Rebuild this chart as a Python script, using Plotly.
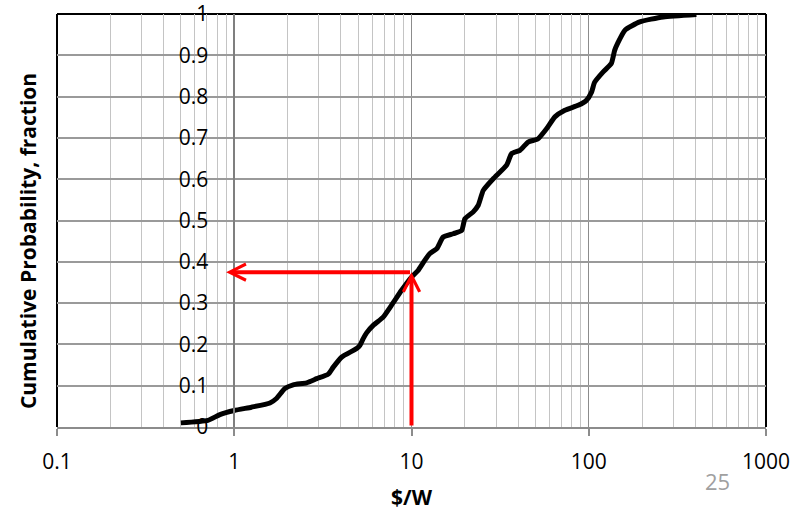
import math
import plotly.graph_objects as go

# Data
cost_per_watt = [0.5, 0.71, 0.83, 1.0, 1.25, 1.59, 1.73, 1.93, 2.15, 2.56, 2.92, 3.39, 3.62,
                 4.03, 4.9, 5.12, 5.34, 5.58, 6.08, 6.92, 7.72, 8.79, 10.0, 10.9, 11.9, 12.7,
                 13.9, 15.1, 17.2, 19.2, 20.0, 22.3, 23.8, 25.4, 28.9, 34.4, 36.7, 40.9, 45.5,
                 51.8, 57.8, 64.4, 73.3, 87.1, 97.0, 103.7, 108.0, 120.6, 134.0, 140.0, 146.6,
                 160.0, 194.0, 263.0, 405.0]
cum_prob = [0.01, 0.016, 0.030, 0.040, 0.048, 0.058, 0.069, 0.093, 0.102, 0.107, 0.117, 0.128,
            0.145, 0.169, 0.190, 0.198, 0.214, 0.228, 0.246, 0.266, 0.295, 0.331, 0.363, 0.379,
            0.404, 0.420, 0.432, 0.460, 0.468, 0.476, 0.504, 0.521, 0.537, 0.573, 0.601, 0.634,
            0.662, 0.670, 0.690, 0.698, 0.722, 0.751, 0.767, 0.779, 0.791, 0.811, 0.835, 0.860,
            0.880, 0.912, 0.932, 0.961, 0.981, 0.993, 0.999]

x_tick_vals = [0.1, 1, 10, 100, 1000]
x_tick_text = ["0.1", "1", "10", "100", "1000"]
y_tick_vals = [0, 0.1, 0.2, 0.3, 0.4, 0.5, 0.6, 0.7, 0.8, 0.9, 1.0]
y_tick_text = ["0", "0.1", "0.2", "0.3", "0.4", "0.5", "0.6", "0.7", "0.8", "0.9", "1"]

# Reading arrows: from x=10 up to the curve, then across to the probability axis
read_x = 10
read_p = 0.375
read_axis_x = 0.9

FONT = "Open Sans"
TICK_SIZE = 21

fig = go.Figure()
fig.add_trace(go.Scatter(
    x=cost_per_watt, y=cum_prob, mode="lines",
    line=dict(color="black", width=5, shape="spline", smoothing=0.5),
    showlegend=False, hoverinfo="skip"))

fig.update_layout(
    width=800, height=515,
    margin=dict(l=57, r=34, t=14, b=88, autoexpand=False),
    paper_bgcolor="white", plot_bgcolor="white",
    font=dict(family=FONT, size=TICK_SIZE, color="black"),
    xaxis=dict(
        type="log", range=[-1, 3], automargin=False,
        tickvals=x_tick_vals, ticktext=x_tick_text,
        showgrid=True, gridcolor="#8c8c8c", gridwidth=1,
        minor=dict(showgrid=True, gridcolor="#c4c4c4", gridwidth=1, dtick="D1",
                   ticks=""),
        showline=True, linecolor="#8c8c8c", linewidth=1.5,
        ticks="outside", ticklen=7, tickcolor="#8c8c8c", tickwidth=1.5,
        ticklabelstandoff=8,
        tickfont=dict(size=TICK_SIZE, family=FONT),
        zeroline=False,
    ),
    yaxis=dict(
        range=[0, 1.0001], tickvals=y_tick_vals, ticktext=y_tick_text,
        anchor="free", position=0.25, automargin=False,
        ticklabeloverflow="allow",
        showgrid=True, gridcolor="#9a9a9a", gridwidth=1.5,
        showline=True, linecolor="#7f7f7f", linewidth=1.5,
        ticks="outside", ticklen=21, tickcolor="rgba(0,0,0,0)",
        tickfont=dict(size=TICK_SIZE, family=FONT),
        zeroline=False,
    ),
)

# black frame on left, top, right (drawn beneath the labels)
for (x0, y0, x1, y1) in [(0, 0, 0, 1), (0, 1, 1, 1), (1, 0, 1, 1)]:
    fig.add_shape(type="line", xref="x domain", yref="y domain", layer="below",
                  x0=x0, y0=y0, x1=x1, y1=y1, line=dict(color="black", width=2))

# red reading arrows
fig.add_annotation(x=math.log10(read_x), y=read_p, ax=math.log10(read_x), ay=0,
                   xref="x", yref="y", axref="x", ayref="y", text="",
                   showarrow=True, arrowhead=5, arrowsize=0.8, arrowwidth=4,
                   arrowcolor="#ff0000")
fig.add_annotation(x=math.log10(read_axis_x), y=read_p, ax=math.log10(read_x), ay=read_p,
                   xref="x", yref="y", axref="x", ayref="y", text="",
                   showarrow=True, arrowhead=5, arrowsize=0.8, arrowwidth=4,
                   arrowcolor="#ff0000")

# axis titles
fig.add_annotation(text="<b>$/W</b>", xref="paper", yref="paper", x=0.5, y=-0.17,
                   xanchor="center", yanchor="middle", showarrow=False,
                   font=dict(size=21, family=FONT))
fig.add_annotation(text="<b>Cumulative Probability, fraction</b>", xref="paper", yref="paper",
                   x=-0.041, y=0.45, xanchor="center", yanchor="middle", textangle=-90,
                   showarrow=False, font=dict(size=21, family=FONT))
fig.add_annotation(text="25", xref="paper", yref="paper", x=0.931, y=-0.131,
                   xanchor="center", yanchor="middle", showarrow=False,
                   font=dict(size=22, family=FONT, color="#a0a0a0"))

fig.write_html("out.html")
